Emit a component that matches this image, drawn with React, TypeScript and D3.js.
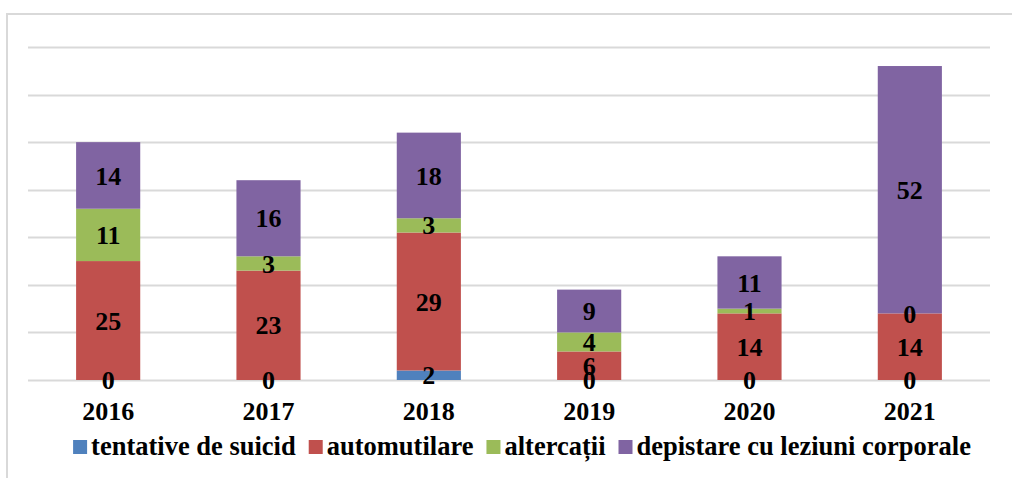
import React, { useEffect, useRef } from 'react';
import * as d3 from 'd3';

const years = ['2016', '2017', '2018', '2019', '2020', '2021'];
const seriesNames = ['tentative de suicid', 'automutilare', 'altercații', 'depistare cu leziuni corporale'];
const tentative = [0, 0, 2, 0, 0, 0];
const automutilare = [25, 23, 29, 6, 14, 14];
const altercatii = [11, 3, 3, 4, 1, 0];
const depistare = [14, 16, 18, 9, 11, 52];
const colors = ['#4F81BD', '#C0504D', '#9BBB59', '#8064A2'];
const gridTicks = [0, 10, 20, 30, 40, 50, 60, 70];

const W = 1012;
const H = 478;
const FONT = 'Liberation Serif';

export default function App() {
  const ref = useRef<SVGSVGElement>(null);

  useEffect(() => {
    const svg = d3.select(ref.current);
    svg.selectAll('*').remove();

    const left = 28, right = 990, top = 47, bottom = 380;
    const x = d3.scaleBand().domain(years).range([left, right]).paddingInner(0.6).paddingOuter(0.3);
    const y = d3.scaleLinear().domain([0, 70]).range([bottom, top]);

    // frame
    svg.append('rect')
      .attr('x', 7).attr('y', 14).attr('width', W + 20).attr('height', H + 20)
      .attr('fill', 'none').attr('stroke', '#d9d9d9').attr('stroke-width', 2);

    svg.append('g').selectAll('line').data(gridTicks).enter().append('line')
      .attr('x1', left).attr('x2', right)
      .attr('y1', d => Math.round(y(d)) + 0.5).attr('y2', d => Math.round(y(d)) + 0.5)
      .attr('stroke', '#d9d9d9').attr('stroke-width', 2);

    const rows = years.map((yr, i) => ({
      year: yr,
      s0: tentative[i], s1: automutilare[i], s2: altercatii[i], s3: depistare[i],
    }));
    const stacked = d3.stack<any>().keys(['s0', 's1', 's2', 's3'])(rows);

    stacked.forEach((layer, k) => {
      const g = svg.append('g');
      g.selectAll('rect').data(layer).enter().append('rect')
        .attr('x', d => x(d.data.year)!)
        .attr('width', x.bandwidth())
        .attr('y', d => y(d[1]))
        .attr('height', d => y(d[0]) - y(d[1]))
        .attr('fill', colors[k]);
    });

    stacked.forEach((layer) => {
      svg.append('g').selectAll('text').data(layer).enter().append('text')
        .attr('x', d => x(d.data.year)! + x.bandwidth() / 2)
        .attr('y', d => (y(d[0]) + y(d[1])) / 2)
        .attr('dy', '0.35em')
        .attr('text-anchor', 'middle')
        .style('font-family', FONT).attr('font-weight', 'bold').attr('font-size', 26)
        .attr('fill', '#000')
        .text(d => d[1] - d[0]);
    });

    // x labels
    svg.append('g').selectAll('text').data(years).enter().append('text')
      .attr('x', d => x(d)! + x.bandwidth() / 2)
      .attr('y', 420)
      .attr('text-anchor', 'middle')
      .style('font-family', FONT).attr('font-weight', 'bold').attr('font-size', 26)
      .text(d => d);

    // legend
    const lg = svg.append('g');
    let cx = 0;
    seriesNames.forEach((name, i) => {
      lg.append('rect').attr('x', cx).attr('y', 440).attr('width', 14).attr('height', 14).attr('fill', colors[i]);
      const t = lg.append('text').attr('x', cx + 18).attr('y', 455)
        .style('font-family', FONT).attr('font-weight', 'bold').attr('font-size', 26.5)
        .text(name);
      cx += 18 + (t.node() as SVGTextElement).getComputedTextLength() + 13;
    });
    const total = cx - 13;
    lg.attr('transform', `translate(${522 - total / 2},0)`);
  }, []);

  return (
    <svg ref={ref} width={W} height={H}
      style={{ position: 'absolute', left: 0, top: 0, background: '#fff' }} />
  );
}
